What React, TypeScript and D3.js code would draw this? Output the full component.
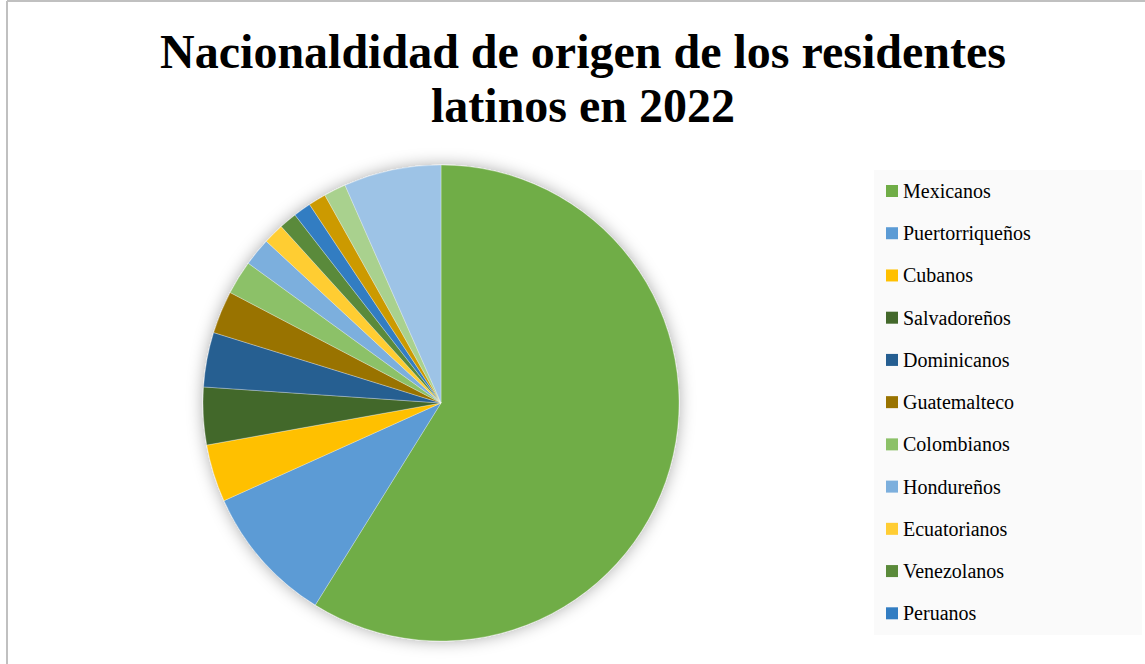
import React from "react";
import * as d3 from "d3";

const categories = [
  "Mexicanos",
  "Puertorriqueños",
  "Cubanos",
  "Salvadoreños",
  "Dominicanos",
  "Guatemalteco",
  "Colombianos",
  "Hondureños",
  "Ecuatorianos",
  "Venezolanos",
  "Peruanos",
  "Nicaragüenses",
  "Españoles",
  "Otros",
];
const values = [58.8, 9.4, 3.9, 3.9, 3.7, 2.9, 2.3, 1.9, 1.4, 1.2, 1.2, 1.2, 1.5, 6.6];
const colors = [
  "#70AD47",
  "#5B9BD5",
  "#FFC000",
  "#43682B",
  "#255E91",
  "#997300",
  "#8CC168",
  "#7CAFDD",
  "#FFCD33",
  "#5A8A3A",
  "#327DC2",
  "#CC9A06",
  "#A9D18E",
  "#9DC3E6",
];
const legendCount = 11;
const titleLines = ["Nacionaldidad de origen de los residentes", "latinos en 2022"];

const W = 1145;
const H = 664;
const cx = 441;
const cy = 403;
const R = 238;

export default function App() {
  const data = categories.map((c, i) => ({ name: c, value: values[i], color: colors[i] }));
  const pie = d3
    .pie<any>()
    .sort(null)
    .value((d: any) => d.value)
    .startAngle(0)
    .endAngle(2 * Math.PI);
  const arcs = pie(data);
  const arc = d3.arc<any>().innerRadius(0).outerRadius(R);

  const legendY = d3
    .scalePoint<string>()
    .domain(categories.slice(0, legendCount))
    .range([191, 613.3]);

  const font = "'Liberation Serif', 'Times New Roman', serif";

  return (
    <div style={{ position: "fixed", left: 0, top: 0 }}>
      <svg width={W} height={H} style={{ display: "block" }}>
        <defs>
          <filter id="shadow" x="-20%" y="-20%" width="140%" height="140%">
            <feDropShadow dx="0" dy="0" stdDeviation="8" floodColor="#000" floodOpacity="0.33" />
          </filter>
        </defs>
        <rect x={0} y={0} width={W} height={H} fill="#fff" />
        <line x1={7} y1={1} x2={W} y2={1} stroke="#c0c0c0" strokeWidth={2} />
        <line x1={7} y1={1} x2={7} y2={H} stroke="#c0c0c0" strokeWidth={2} />
        {titleLines.map((t, i) => (
          <text
            key={i}
            x={583}
            y={67.5 + i * 54.5}
            textAnchor="middle"
            fontFamily={font}
            fontWeight="bold"
            fontSize={48}
            fill="#000"
          >
            {t}
          </text>
        ))}
        <g transform={`translate(${cx},${cy})`} filter="url(#shadow)">
          {arcs.map((a, i) => (
            <path
              key={i}
              d={arc(a) || ""}
              fill={a.data.color}
              stroke="#ffffff"
              strokeOpacity={0.5}
              strokeWidth={0.6}
            />
          ))}
        </g>
        <rect x={874} y={170} width={268} height={465} fill="#fafafa" />
        {categories.slice(0, legendCount).map((c, i) => {
          const y = legendY(c) as number;
          return (
            <g key={c}>
              <rect x={886} y={y - 6} width={12} height={12} fill={colors[i]} />
              <text x={903} y={y + 7} fontFamily={font} fontSize={20} fill="#000">
                {c}
              </text>
            </g>
          );
        })}
      </svg>
    </div>
  );
}
